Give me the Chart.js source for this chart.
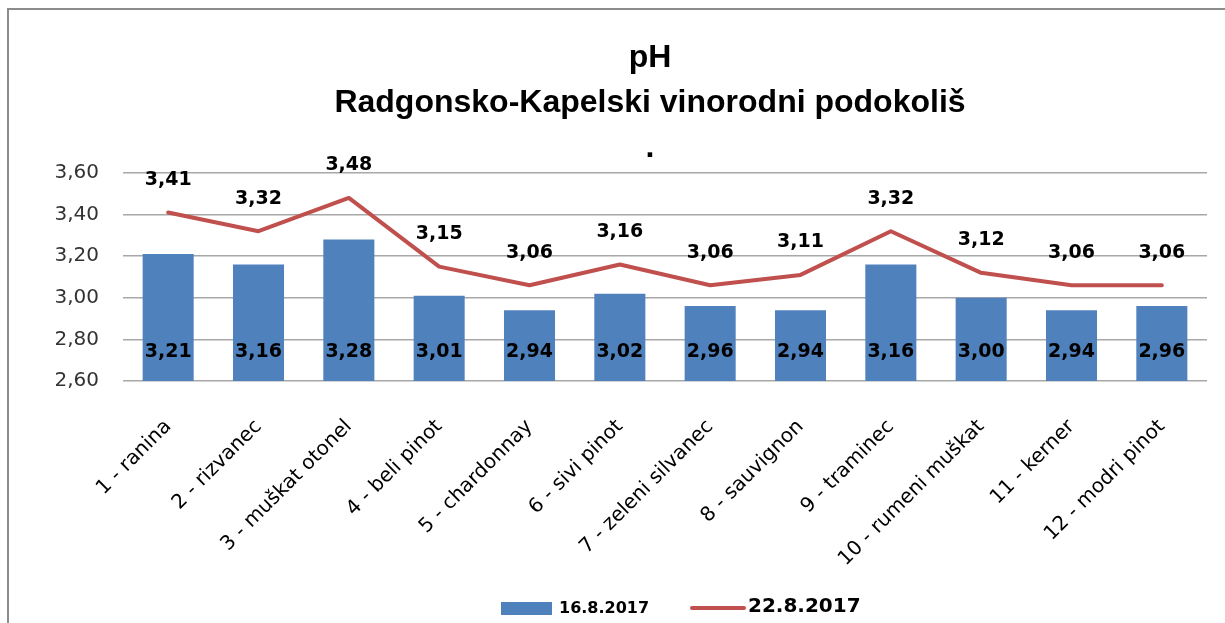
<!DOCTYPE html>
<html><head><meta charset="utf-8">
<script src="https://cdn.jsdelivr.net/npm/chart.js@4.4.1/dist/chart.umd.min.js"></script>
<style>html,body{margin:0;padding:0;background:#fff}#wrap{width:1225px;height:623px}</style>
</head><body><div id="wrap"><canvas id="c" width="1225" height="623"></canvas></div>
<script>
const categories = ["1 - ranina","2 - rizvanec","3 - muškat otonel","4 - beli pinot","5 - chardonnay","6 - sivi pinot","7 - zeleni silvanec","8 - sauvignon","9 - traminec","10 - rumeni muškat","11 - kerner","12 - modri pinot"];
const series1 = [3.21,3.16,3.28,3.01,2.94,3.02,2.96,2.94,3.16,3.00,2.94,2.96];
const series2 = [3.41,3.32,3.48,3.15,3.06,3.16,3.06,3.11,3.32,3.12,3.06,3.06];
const seriesNames = ["16.8.2017","22.8.2017"];
const titleLines = ["pH","Radgonsko-Kapelski vinorodni podokoliš","."];
const yTicks = [2.6,2.8,3.0,3.2,3.4,3.6];
const FONT = "'DejaVu Sans', Verdana, sans-serif";
const TFONT = "'Liberation Sans', Arial, sans-serif";
const BLUE = '#4F81BD', RED = '#C0504D';
const fmt = v => v.toFixed(2).replace('.', ',');

const framePlugin = {
  id:'frame',
  beforeDraw(chart){
    const ctx = chart.ctx;
    ctx.save();
    ctx.fillStyle = '#fff';
    ctx.fillRect(0,0,chart.width,chart.height);
    ctx.strokeStyle = '#8c8c8c';
    ctx.lineWidth = 2;
    ctx.beginPath();
    ctx.moveTo(8, chart.height);
    ctx.lineTo(8, 9);
    ctx.lineTo(chart.width, 9);
    ctx.stroke();
    // title
    ctx.fillStyle = '#000';
    ctx.textAlign = 'center';
    ctx.textBaseline = 'alphabetic';
    ctx.font = "bold 32px " + TFONT;
    titleLines.forEach((t,i)=>ctx.fillText(t, 650, 67 + i*45));
    ctx.restore();
  },
  afterDraw(chart){
    const ctx = chart.ctx;
    ctx.save();
    // legend
    ctx.textAlign = 'left';
    ctx.textBaseline = 'middle';
    ctx.fillStyle = BLUE;
    ctx.fillRect(501, 602, 51, 13);
    ctx.fillStyle = '#000';
    ctx.font = "bold 16px " + FONT;
    ctx.fillText(chart.data.datasets[0].label, 559, 609);
    ctx.strokeStyle = RED;
    ctx.lineWidth = 4;
    ctx.lineCap = 'round';
    ctx.beginPath();
    ctx.moveTo(692, 608); ctx.lineTo(744, 608);
    ctx.stroke();
    ctx.font = "bold 20px " + FONT;
    ctx.fillText(chart.data.datasets[1].label, 748, 607);
    ctx.restore();
  }
};
const labelPlugin = {
  id:'vals',
  afterDatasetsDraw(chart){
    const ctx = chart.ctx;
    ctx.save();
    ctx.fillStyle = '#000';
    ctx.textAlign = 'center';
    ctx.textBaseline = 'middle';
    const yScale = chart.scales.y;
    ctx.font = "bold 19px " + FONT;
    chart.getDatasetMeta(0).data.forEach((el,i)=>{
      ctx.fillText(fmt(series1[i]), el.x, yScale.bottom - 28.5);
    });
    chart.getDatasetMeta(1).data.forEach((el,i)=>{
      ctx.fillText(fmt(series2[i]), el.x, el.y - 32.5);
    });
    ctx.restore();
  }
};

new Chart(document.getElementById('c'), {
  data:{
    labels: categories,
    datasets:[
      {type:'bar', label:seriesNames[0], data:series1, backgroundColor:BLUE, barPercentage:0.565, categoryPercentage:1, order:2},
      {type:'line', label:seriesNames[1], data:series2, borderColor:RED, backgroundColor:RED, borderWidth:4, pointRadius:0, tension:0, order:1, borderJoinStyle:'round', borderCapStyle:'round'}
    ]
  },
  options:{
    responsive:false,
    animation:false,
    layout:{padding:{left:0, right:18, top:173, bottom:10}},
    plugins:{ title:{display:false}, legend:{display:false}, tooltip:{enabled:false} },
    scales:{
      x:{grid:{display:false, drawTicks:false}, border:{display:false},
        afterFit(s){ s.height = 232; },
        ticks:{color:'#000', font:{family:FONT, size:20}, maxRotation:45, minRotation:45, padding:34, autoSkip:false}},
      y:{min:2.6, max:3.6, grid:{color:'#a8a8a8', drawTicks:false, lineWidth:1.5}, border:{display:false},
        afterFit(s){ s.width = 123; },
        afterBuildTicks(s){ s.ticks = yTicks.map(v=>({value:v})); },
        ticks:{color:'#333', font:{family:FONT, size:20}, padding:24, callback:v=>fmt(v)}}
    }
  },
  plugins:[framePlugin, labelPlugin]
});
</script></body></html>
